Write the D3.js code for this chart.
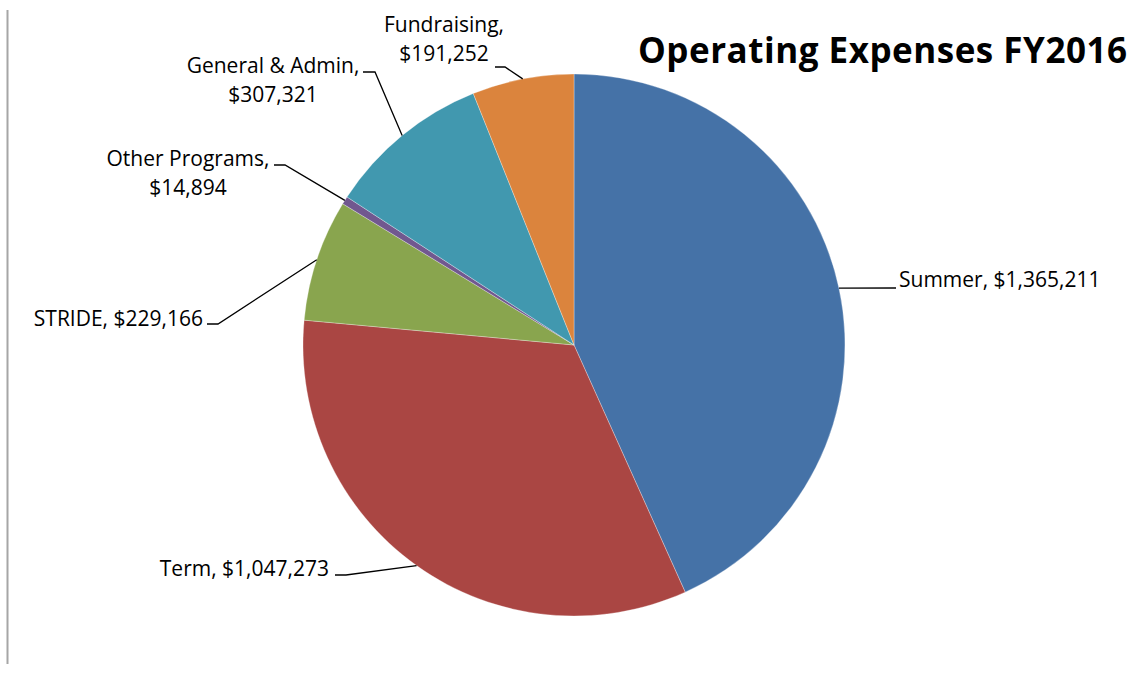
<!DOCTYPE html>
<html>
<head>
<meta charset="utf-8">
<script src="https://cdn.jsdelivr.net/npm/d3@7"></script>
<style>
  body { margin: 0; background: #fff; overflow: hidden; }
  svg { display: block; font-family: "Open Sans", sans-serif; }
</style>
</head>
<body>
<svg id="chart"></svg>
<script>
// data
const categories = ['Summer', 'Term', 'STRIDE', 'Other Programs', 'General & Admin', 'Fundraising'];
const amounts = [1365211, 1047273, 229166, 14894, 307321, 191252];
const colors = ['#4572A7', '#AA4643', '#89A54E', '#71588F', '#4198AF', '#DB843D'];

// label layout: text lines, text anchor point, leader elbow
const labelLayout = [
  {lines: 1, tx: 899, ty: 287, anchor: 'start', lineY: 288, x1: 896, x2: 896},
  {lines: 1, tx: 329, ty: 576, anchor: 'end', lineY: 575, x1: 335, x2: 346},
  {lines: 1, tx: 203, ty: 326, anchor: 'end', lineY: 324, x1: 207, x2: 218},
  {lines: 2, tx: 188, ty: 166, anchor: 'middle', lineY: 165, x1: 274, x2: 285},
  {lines: 2, tx: 273, ty: 73, anchor: 'middle', lineY: 72, x1: 363, x2: 375},
  {lines: 2, tx: 444, ty: 32, anchor: 'middle', lineY: 67, x1: 495, x2: 505}
];

const width = 1130,
  height = 679,
  cx = 574,
  cy = 345,
  radius = 271;

const fmt = d3.format('$,');

const svg = d3.select('#chart')
  .attr('width', width)
  .attr('height', height);

// left border line
svg.append('line')
  .attr('x1', 7.5).attr('x2', 7.5)
  .attr('y1', 10).attr('y2', 664)
  .attr('stroke', '#a6a6a6')
  .attr('stroke-width', 2);

const pie = d3.pie()
  .sort(null)
  .value((d, i) => amounts[i]);

const arc = d3.arc()
  .innerRadius(0)
  .outerRadius(radius);

const arcs = pie(categories);

const g = svg.append('g')
  .attr('transform', `translate(${cx},${cy})`);

g.selectAll('path')
  .data(arcs)
  .enter()
  .append('path')
    .attr('d', arc)
    .attr('fill', (d, i) => colors[i])
    .attr('stroke', '#ffffff')
    .attr('stroke-opacity', 0.5)
    .attr('stroke-width', 0.6);

// leader lines + labels
const leaders = svg.append('g');
arcs.forEach((d, i) => {
  const L = labelLayout[i];
  const mid = (d.startAngle + d.endAngle) / 2;
  const px = cx + Math.sin(mid) * radius;
  const py = cy - Math.cos(mid) * radius;
  leaders.append('polyline')
    .attr('points', `${L.x1},${L.lineY} ${L.x2},${L.lineY} ${px},${py}`)
    .attr('fill', 'none')
    .attr('stroke', '#000')
    .attr('stroke-width', 1.3);

  const t = svg.append('text')
    .attr('x', L.tx)
    .attr('y', L.ty)
    .attr('text-anchor', L.anchor)
    .attr('font-size', '21px')
    .attr('fill', '#000');
  if (L.lines === 1) {
    t.text(`${categories[i]}, ${fmt(amounts[i])}`);
  } else {
    t.append('tspan').attr('x', L.tx).text(`${categories[i]},`);
    t.append('tspan').attr('x', L.tx).attr('dy', 29).text(fmt(amounts[i]));
  }
});

// title
svg.append('text')
  .attr('x', 638)
  .attr('y', 63)
  .attr('font-size', '35px')
  .attr('font-weight', 'bold')
  .attr('fill', '#000')
  .attr('textLength', 489)
  .attr('lengthAdjust', 'spacing')
  .text('Operating Expenses FY2016');
</script>
</body>
</html>
